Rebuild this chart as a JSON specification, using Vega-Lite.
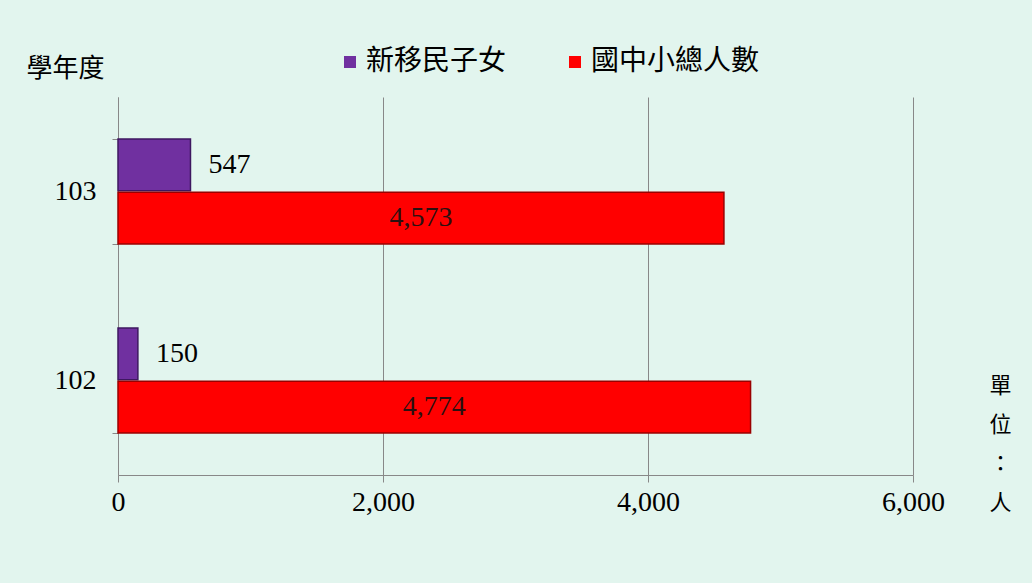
{
  "$schema": "https://vega.github.io/schema/vega-lite/v6.json",
  "width": 795,
  "height": 378,
  "autosize": {"type": "none"},
  "padding": {"left": 118, "top": 97, "right": 119, "bottom": 108},
  "background": "#e2f5ee",
  "config": {"view": {"stroke": null}, "font": "Liberation Serif"},
  "data": {
    "values": [
      {"year": "103", "series": "新移民子女", "value": 547},
      {"year": "103", "series": "國中小總人數", "value": 4573},
      {"year": "102", "series": "新移民子女", "value": 150},
      {"year": "102", "series": "國中小總人數", "value": 4774}
    ]
  },
  "encoding": {
    "y": {
      "field": "year",
      "type": "nominal",
      "sort": "descending",
      "scale": {"paddingInner": 0.444, "paddingOuter": 0.222},
      "axis": {
        "title": "學年度",
        "titleAngle": 0,
        "titleX": -53,
        "titleY": -29,
        "titleAlign": "center",
        "titleBaseline": "middle",
        "titleFont": "Noto Sans CJK TC",
        "titleFontSize": 26,
        "titleFontWeight": "normal",
        "titleColor": "#000000",
        "labelFont": "Liberation Serif",
        "labelFontSize": 28,
        "labelColor": "#000000",
        "labelPadding": 16,
        "tickBand": "extent",
        "tickSize": 6,
        "tickColor": "#888888",
        "domainColor": "#888888"
      }
    },
    "yOffset": {
      "field": "series",
      "sort": ["新移民子女", "國中小總人數"],
      "scale": {"paddingInner": 0.03}
    }
  },
  "layer": [
    {
      "mark": {"type": "bar", "strokeWidth": 1.5},
      "encoding": {
        "x": {
          "field": "value",
          "type": "quantitative",
          "title": ["單", "位", "：", "人"],
          "scale": {"domain": [0, 6000]},
          "axis": {
            "tickCount": 3,
            "labelExpr": "format(datum.value, ',')",
            "grid": true,
            "gridColor": "#888888",
            "domainColor": "#888888",
            "tickColor": "#888888",
            "tickSize": 7,
            "labelFont": "Liberation Serif",
            "labelFontSize": 28,
            "labelColor": "#000000",
            "labelPadding": 6,
            "labelFlush": false,
            "labelOverlap": false,
            "titleFont": "Noto Sans CJK TC",
            "titleFontSize": 22,
            "titleFontWeight": "normal",
            "titleColor": "#000000",
            "titleLineHeight": 39,
            "titleX": 882,
            "titleY": -100,
            "titleAlign": "center",
            "titleBaseline": "top",
            "titleAngle": 0
          }
        },
        "color": {
          "field": "series",
          "type": "nominal",
          "scale": {"domain": ["新移民子女", "國中小總人數"], "range": ["#7030A0", "#FF0000"]},
          "legend": {
            "title": null,
            "orient": "none",
            "legendX": 218,
            "legendY": -49,
            "direction": "horizontal",
            "symbolType": "square",
            "symbolSize": 144,
            "symbolStrokeWidth": 0,
            "labelFont": "Noto Sans CJK TC",
            "labelFontSize": 28,
            "labelColor": "#000000",
            "labelOffset": 2,
            "columnPadding": 54,
            "labelLimit": 300
          }
        },
        "stroke": {
          "field": "series",
          "type": "nominal",
          "scale": {"domain": ["新移民子女", "國中小總人數"], "range": ["#3e1760", "#9a0000"]},
          "legend": null
        }
      }
    },
    {
      "transform": [{"filter": "datum.series === '新移民子女'"}],
      "mark": {"type": "text", "align": "left", "baseline": "middle", "dx": 18, "fontSize": 28, "font": "Liberation Serif", "color": "#000000"},
      "encoding": {
        "x": {"field": "value", "type": "quantitative"},
        "text": {"field": "value", "type": "quantitative", "format": ","}
      }
    },
    {
      "transform": [
        {"filter": "datum.series === '國中小總人數'"},
        {"calculate": "datum.value / 2", "as": "mid"}
      ],
      "mark": {"type": "text", "align": "center", "baseline": "middle", "fontSize": 28, "font": "Liberation Serif", "color": "#2a1010"},
      "encoding": {
        "x": {"field": "mid", "type": "quantitative"},
        "text": {"field": "value", "type": "quantitative", "format": ","}
      }
    }
  ]
}
